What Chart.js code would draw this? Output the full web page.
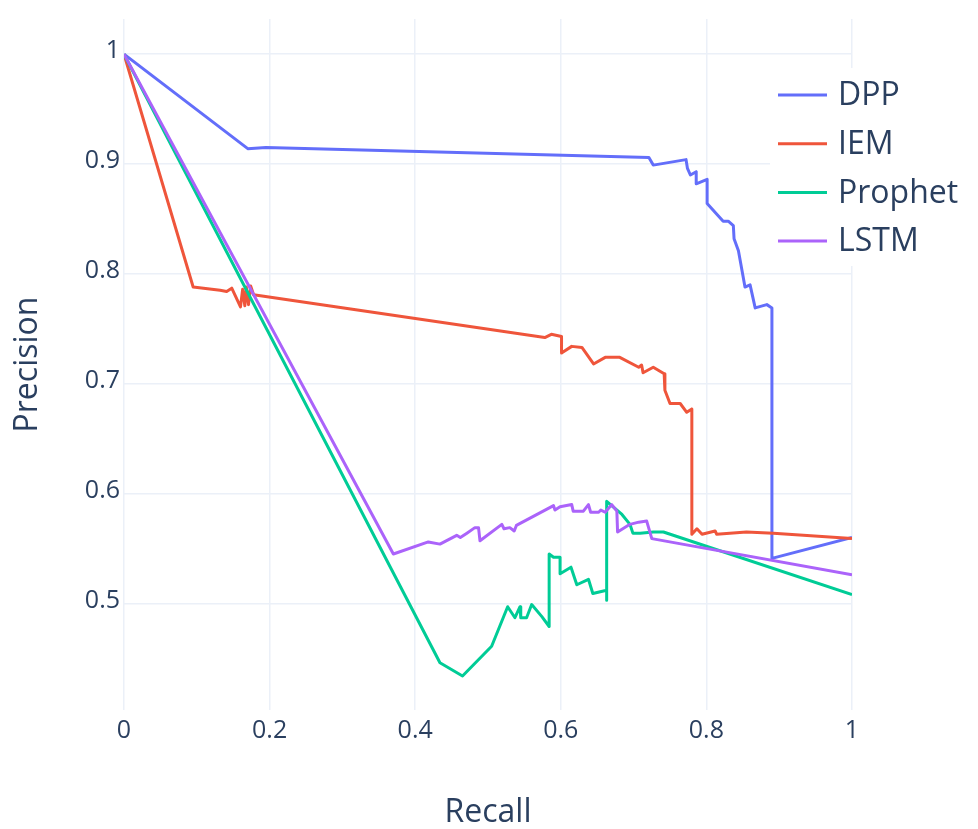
<!DOCTYPE html>
<html>
<head>
<meta charset="utf-8">
<script src="https://cdn.jsdelivr.net/npm/chart.js@4/dist/chart.umd.min.js"></script>
<style>
  body { margin: 0; background: #fff; }
  #wrap { width: 978px; height: 829px; }
</style>
</head>
<body>
<div id="wrap"><canvas id="prChart"></canvas></div>
<script>
// ----- dados -----
const seriesNames = ['DPP', 'IEM', 'Prophet', 'LSTM'];
const seriesColors = ['#636efa', '#EF553B', '#00cc96', '#ab63fa'];
const xTicks = [0, 0.2, 0.4, 0.6, 0.8, 1];
const yTicks = [0.5, 0.6, 0.7, 0.8, 0.9, 1];

const dppRecall = [0, 0.170, 0.195, 0.721, 0.727, 0.772, 0.774, 0.778, 0.786, 0.786, 0.801, 0.801, 0.823, 0.830, 0.837, 0.838, 0.844, 0.853, 0.860, 0.867, 0.883, 0.890, 0.890, 1];
const dppPrecision = [1, 0.914, 0.915, 0.906, 0.899, 0.904, 0.896, 0.890, 0.893, 0.882, 0.886, 0.864, 0.848, 0.848, 0.844, 0.832, 0.821, 0.788, 0.790, 0.769, 0.772, 0.769, 0.541, 0.560];

const iemRecall = [0, 0.095, 0.132, 0.141, 0.148, 0.160, 0.163, 0.166, 0.168, 0.171, 0.174, 0.178, 0.578, 0.587, 0.601, 0.601, 0.615, 0.629, 0.645, 0.661, 0.681, 0.707, 0.711, 0.713, 0.727, 0.742, 0.743, 0.750, 0.764, 0.773, 0.780, 0.780, 0.787, 0.794, 0.812, 0.814, 0.855, 0.892, 1];
const iemPrecision = [1, 0.788, 0.785, 0.784, 0.787, 0.770, 0.786, 0.771, 0.788, 0.772, 0.789, 0.781, 0.742, 0.745, 0.743, 0.728, 0.734, 0.733, 0.718, 0.724, 0.724, 0.715, 0.717, 0.710, 0.715, 0.709, 0.694, 0.682, 0.682, 0.674, 0.677, 0.563, 0.568, 0.563, 0.566, 0.563, 0.565, 0.564, 0.559];

const prophetRecall = [0, 0.434, 0.465, 0.505, 0.527, 0.537, 0.544, 0.545, 0.553, 0.560, 0.574, 0.584, 0.584, 0.590, 0.599, 0.599, 0.614, 0.622, 0.638, 0.644, 0.663, 0.663, 0.663, 0.684, 0.695, 0.699, 0.709, 0.727, 0.741, 1];
const prophetPrecision = [1, 0.446, 0.434, 0.461, 0.497, 0.487, 0.497, 0.487, 0.487, 0.499, 0.488, 0.479, 0.545, 0.542, 0.542, 0.527, 0.533, 0.517, 0.522, 0.509, 0.512, 0.503, 0.593, 0.581, 0.572, 0.564, 0.564, 0.565, 0.565, 0.508];

const lstmRecall = [0, 0.370, 0.418, 0.434, 0.457, 0.462, 0.471, 0.482, 0.487, 0.489, 0.519, 0.522, 0.530, 0.536, 0.539, 0.590, 0.592, 0.599, 0.615, 0.617, 0.631, 0.638, 0.641, 0.652, 0.655, 0.661, 0.670, 0.677, 0.678, 0.695, 0.707, 0.718, 0.725, 1];
const lstmPrecision = [1, 0.545, 0.556, 0.554, 0.562, 0.560, 0.564, 0.569, 0.569, 0.557, 0.572, 0.568, 0.569, 0.566, 0.571, 0.589, 0.585, 0.588, 0.590, 0.584, 0.584, 0.590, 0.583, 0.583, 0.585, 0.583, 0.590, 0.584, 0.565, 0.572, 0.574, 0.575, 0.559, 0.526];

const recalls = [dppRecall, iemRecall, prophetRecall, lstmRecall];
const precisions = [dppPrecision, iemPrecision, prophetPrecision, lstmPrecision];

const textColor = '#2a3f5f';
const gridColor = '#ebf0f8';
const fontFamily = '"Open Sans", "Noto Sans", sans-serif';

// monta os pontos {x, y} de cada série
const datasets = seriesNames.map((nome, i) => ({
    label: nome,
    data: recalls[i].map((r, k) => ({ x: r, y: precisions[i][k] })),
    borderColor: seriesColors[i],
    backgroundColor: seriesColors[i],
    borderWidth: 3,
    borderJoinStyle: 'round',
    pointRadius: 0,
    tension: 0,
    fill: false,
    order: seriesNames.length - i // a última série fica por cima, como no original
}));

// legenda desenhada por cima da área do gráfico
const legendaPlugin = {
    id: 'legendaInterna',
    afterDraw(chart) {
        const ctx = chart.ctx;
        ctx.save();
        ctx.fillStyle = '#fff';
        ctx.fillRect(770, 68, 208, 198);
        ctx.font = '32px ' + fontFamily;
        ctx.textBaseline = 'middle';
        ctx.textAlign = 'left';
        chart.data.datasets.forEach((ds, i) => {
            const y = 95 + i * 48.7;
            ctx.strokeStyle = ds.borderColor;
            ctx.lineWidth = 3;
            ctx.beginPath();
            ctx.moveTo(778, y);
            ctx.lineTo(827, y);
            ctx.stroke();
            ctx.fillStyle = textColor;
            ctx.fillText(ds.label, 838, y + 1);
        });
        ctx.restore();
    }
};

const fmt = v => String(Number(v.toFixed(1)));

new Chart(document.getElementById('prChart'), {
    type: 'line',
    data: { datasets },
    plugins: [legendaPlugin],
    options: {
        responsive: true,
        maintainAspectRatio: false,
        animation: false,
        layout: { padding: { left: 0, right: 126, top: 10, bottom: 0 } },
        plugins: { legend: { display: false }, tooltip: { enabled: false } },
        scales: {
            x: {
                type: 'linear',
                min: 0,
                max: 1,
                afterBuildTicks: s => { s.ticks = xTicks.map(v => ({ value: v })); },
                afterFit: s => { s.height = 119; },
                border: { display: false },
                grid: { color: gridColor, lineWidth: 1.5, drawTicks: false },
                ticks: { color: textColor, padding: 6, font: { family: fontFamily, size: 25 }, callback: fmt },
                title: { display: true, text: 'Recall', color: textColor, padding: { top: 0, bottom: 0 }, font: { family: fontFamily, size: 32, lineHeight: 1 } }
            },
            y: {
                type: 'linear',
                min: 0.403,
                max: 1.032,
                afterBuildTicks: s => { s.ticks = yTicks.map(v => ({ value: v })); },
                afterFit: s => { s.width = 124; },
                border: { display: false },
                grid: { color: gridColor, lineWidth: 1.5, drawTicks: false },
                ticks: { color: textColor, padding: 4, labelOffset: -3, font: { family: fontFamily, size: 25 }, callback: fmt },
                title: { display: true, text: 'Precision', color: textColor, padding: { top: 12, bottom: 0 }, font: { family: fontFamily, size: 32, lineHeight: 1 } }
            }
        }
    }
});
</script>
</body>
</html>
